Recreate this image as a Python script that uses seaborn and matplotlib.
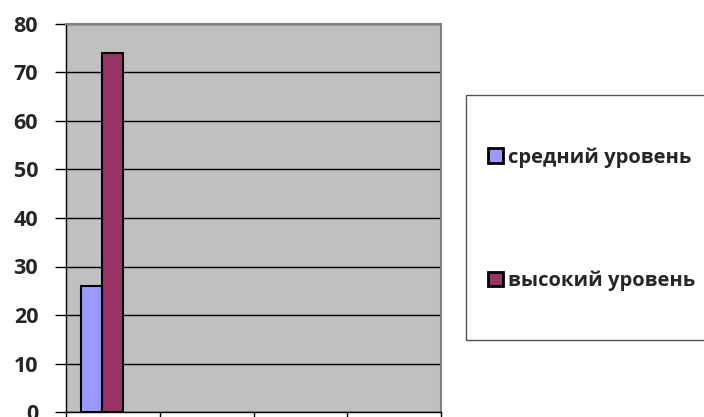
import matplotlib
matplotlib.use("Agg")
import matplotlib.pyplot as plt
import seaborn as sns
import pandas as pd
from matplotlib.patches import Rectangle, Patch

categories = ["1", "2", "3", "4"]
series = ["средний уровень", "высокий уровень", "ряд 3"]
cat_col = ["1", "1"]
ser_col = ["средний уровень", "высокий уровень"]
values = [26, 74]
colors = ["#9999FF", "#993366", "#FFFFCC"]
yticks = [0, 10, 20, 30, 40, 50, 60, 70, 80]

df = pd.DataFrame({"cat": cat_col, "series": ser_col, "value": values})

sns.set_theme(style="white")
plt.rcParams["font.family"] = ["Open Sans", "DejaVu Sans"]

W, H = 704, 417
fig = plt.figure(figsize=(W / 100, H / 100), dpi=100)
ax = fig.add_axes([66 / W, 1 - 412 / H, (441 - 66) / W, (412 - 24) / H])
ax.set_facecolor("#C0C0C0")

sns.barplot(data=df, x="cat", y="value", hue="series", order=categories,
            hue_order=series, palette=colors, width=0.67, ax=ax,
            edgecolor="black", linewidth=1.5, legend=False, errorbar=None,
            saturation=1, zorder=3)

ax.set_xlim(-0.5, 3.5)
ax.set_ylim(0, 80)
ax.set_yticks(yticks)
ax.set_yticklabels([str(v) for v in yticks], fontsize=15.5, fontweight="bold")
ax.yaxis.grid(True, color="black", linewidth=1)
ax.set_axisbelow(True)
ax.set_xticks([-0.5, 0.5, 1.5, 2.5, 3.5])
ax.set_xticklabels([])
ax.tick_params(axis="x", direction="out", length=6, width=1, color="black", bottom=True)
ax.tick_params(axis="y", direction="out", length=8, width=1, color="black", left=True, pad=12)
ax.set_xlabel("")
ax.set_ylabel("")
for s in ["left", "bottom"]:
    ax.spines[s].set_color("black")
    ax.spines[s].set_linewidth(1)
for s in ["right", "top"]:
    ax.spines[s].set_color("#808080")
    ax.spines[s].set_linewidth(1.5)

# legend frame
fig.patches.append(Rectangle((466 / W, 1 - 340 / H), (720 - 466) / W, (340 - 95) / H,
                             transform=fig.transFigure, facecolor="white",
                             edgecolor="#555555", linewidth=1, zorder=0))
handles = [Patch(facecolor=colors[i], edgecolor="black", linewidth=2) for i in range(2)]
leg = fig.legend(handles, series[:2], loc="center left",
                 bbox_to_anchor=(478 / W, 1 - 219 / H), frameon=False,
                 prop={"size": 14.5, "weight": "bold"}, handlelength=0.72,
                 handleheight=0.72, handletextpad=0.25, labelspacing=5.1,
                 borderpad=0)

fig.savefig("out.png", dpi=100)
